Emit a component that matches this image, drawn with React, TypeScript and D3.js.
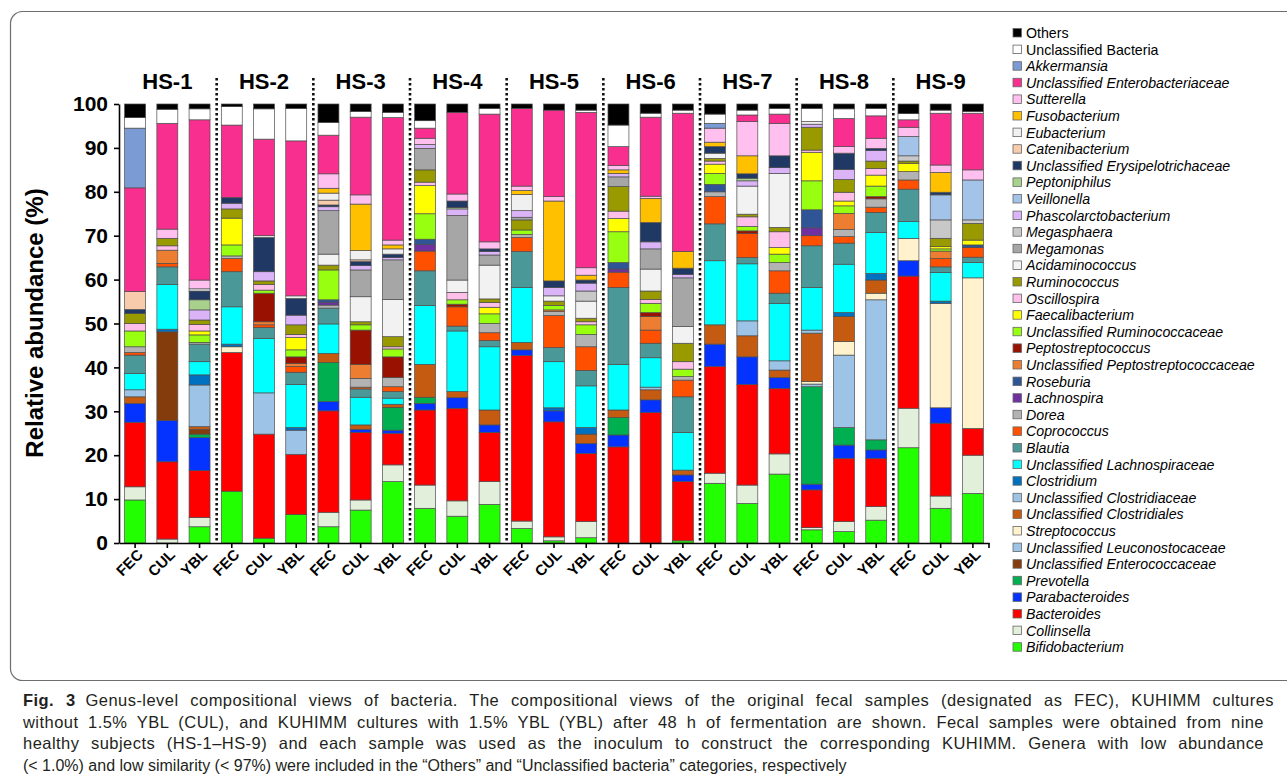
import React, { useEffect, useRef } from 'react';
import * as d3 from 'd3';

const subjects = ['HS-1', 'HS-2', 'HS-3', 'HS-4', 'HS-5', 'HS-6', 'HS-7', 'HS-8', 'HS-9'];
const conditions = ['FEC', 'CUL', 'YBL'];
const yTicks = [0, 10, 20, 30, 40, 50, 60, 70, 80, 90, 100];

// genera, bottom of the stack first
const genusKeys = ['Bifi', 'Coll', 'Bact', 'Para', 'Prev', 'UEnc', 'ULeu', 'Strp', 'UCls', 'UCld', 'Clos', 'ULac', 'Blau', 'Copr', 'Dore', 'Lach', 'Rose', 'UPep', 'Pept', 'URum', 'Faec', 'Osci', 'Rumi', 'Acid', 'Mgmo', 'Mgsp', 'Phas', 'Veil', 'Pepn', 'UEry', 'Cate', 'Euba', 'Fuso', 'Sutt', 'UEnt', 'Akke', 'UBac', 'Othe'];
const genusNames = ['Bifidobacterium', 'Collinsella', 'Bacteroides', 'Parabacteroides', 'Prevotella', 'Unclassified Enterococcaceae', 'Unclassified Leuconostocaceae', 'Streptococcus', 'Unclassified Clostridiales', 'Unclassified Clostridiaceae', 'Clostridium', 'Unclassified Lachnospiraceae', 'Blautia', 'Coprococcus', 'Dorea', 'Lachnospira', 'Roseburia', 'Unclassified Peptostreptococcaceae', 'Peptostreptococcus', 'Unclassified Ruminococcaceae', 'Faecalibacterium', 'Oscillospira', 'Ruminococcus', 'Acidaminococcus', 'Megamonas', 'Megasphaera', 'Phascolarctobacterium', 'Veillonella', 'Peptoniphilus', 'Unclassified Erysipelotrichaceae', 'Catenibacterium', 'Eubacterium', 'Fusobacterium', 'Sutterella', 'Unclassified Enterobacteriaceae', 'Akkermansia', 'Unclassified Bacteria', 'Others'];
const genusColors = ['#22ff00', '#e2efda', '#ff0000', '#0433ff', '#00b050', '#843c0c', '#9dc3e6', '#fff2cc', '#c55a11', '#9dc3e6', '#0070c0', '#00ffff', '#4a9898', '#ff5000', '#b3b3b3', '#7030a0', '#2f5597', '#ed7d31', '#991100', '#99ff11', '#ffff00', '#ffbfe8', '#999900', '#f2f2f2', '#a6a6a6', '#c8c8c8', '#dbb4f8', '#a3c4e8', '#a9d18e', '#1f3864', '#f8cbad', '#f0f0f0', '#ffc000', '#ffbfef', '#f82f8f', '#7b9bd5', '#ffffff', '#000000'];
const plainNames = ['Others', 'Unclassified Bacteria'];

// relative abundance (%) per sample
const HS1_FEC = { Bifi: 9.8, Coll: 3.0, Bact: 14.7, Para: 4.3, UCls: 1.5, UCld: 1.6, ULac: 3.7, Blau: 4.2, Copr: 0.6, Dore: 1.3, URum: 3.6, Osci: 1.7, Rumi: 2.3, UEry: 0.9, Cate: 4.1, UEnt: 23.6, Akke: 13.6, UBac: 2.4, Othe: 3.1 };
const HS1_CUL = { Coll: 0.9, Bact: 17.6, Para: 9.4, UEnc: 20.2, Clos: 0.6, ULac: 10.2, Blau: 4.0, Copr: 0.8, UPep: 3.0, Osci: 1.0, Rumi: 1.7, Sutt: 2.1, UEnt: 24.1, UBac: 3.2, Othe: 1.2 };
const HS1_YBL = { Bifi: 3.7, Coll: 2.1, Bact: 10.7, Para: 7.5, Prev: 0.8, UEnc: 1.1, UCls: 0.6, UCld: 9.5, Clos: 2.3, ULac: 3.0, Blau: 4.0, Dore: 0.4, URum: 1.7, Faec: 0.9, Osci: 1.5, Rumi: 1.0, Phas: 2.3, Pepn: 2.3, UEry: 2.0, Euba: 0.5, Sutt: 2.0, UEnt: 36.5, UBac: 2.5, Othe: 1.1 };
const HS2_FEC = { Bifi: 11.8, Bact: 31.6, Strp: 1.3, Clos: 0.6, ULac: 8.5, Blau: 8.0, Copr: 3.0, Dore: 0.6, URum: 2.5, Faec: 6.1, Rumi: 2.1, Phas: 1.3, UEry: 1.3, UEnt: 16.5, UBac: 4.2, Othe: 0.6 };
const HS2_CUL = { Bifi: 1.1, Bact: 23.7, UCld: 9.4, ULac: 12.4, Blau: 2.5, Copr: 0.6, UPep: 0.7, Pept: 6.5, URum: 0.7, Osci: 1.3, Rumi: 0.8, Phas: 2.1, UEry: 7.8, Euba: 0.4, UEnt: 22.0, UBac: 6.9, Othe: 1.1 };
const HS2_YBL = { Bifi: 6.5, Bact: 13.7, UCld: 5.5, Clos: 0.6, ULac: 9.8, Blau: 2.8, Copr: 1.3, UPep: 0.7, Pept: 1.5, URum: 1.6, Faec: 2.8, Osci: 0.7, Rumi: 2.2, Phas: 2.2, UEry: 3.8, Euba: 0.6, UEnt: 35.3, UBac: 7.4, Othe: 1.0 };
const HS3_FEC = { Bifi: 3.7, Coll: 3.3, Bact: 23.1, Para: 2.1, Prev: 8.9, UCls: 2.1, ULac: 6.7, Blau: 3.6, Dore: 0.7, Lach: 0.6, Rose: 0.6, URum: 6.8, Rumi: 1.1, Acid: 2.5, Mgmo: 9.9, Phas: 0.9, UEry: 0.4, Cate: 1.1, Euba: 1.6, Fuso: 1.1, Sutt: 3.3, UEnt: 8.8, UBac: 2.9, Othe: 4.2 };
const HS3_CUL = { Bifi: 7.5, Coll: 2.3, Bact: 15.4, Para: 0.7, UCls: 1.0, ULac: 6.3, Blau: 1.9, Copr: 0.4, Dore: 2.0, UPep: 3.2, Pept: 7.8, URum: 1.2, Rumi: 0.7, Acid: 5.7, Mgmo: 6.1, Phas: 1.0, UEry: 0.9, Cate: 0.4, Euba: 2.1, Fuso: 10.6, Sutt: 2.1, UEnt: 17.7, UBac: 1.3, Othe: 1.7 };
const HS3_YBL = { Bifi: 14.0, Coll: 3.8, Bact: 7.2, Para: 0.7, Prev: 5.2, UCls: 0.7, ULac: 1.4, Blau: 1.5, Copr: 1.1, Dore: 2.1, Pept: 4.7, URum: 1.8, Osci: 0.5, Rumi: 2.3, Acid: 8.5, Mgmo: 9.0, Phas: 0.5, UEry: 0.8, Euba: 1.2, Fuso: 0.9, Sutt: 1.1, UEnt: 27.9, UBac: 1.2, Othe: 1.9 };
const HS4_FEC = { Bifi: 7.9, Coll: 5.3, Bact: 17.1, Para: 1.5, Prev: 1.4, UCls: 7.5, ULac: 13.4, Blau: 7.9, Copr: 4.5, Lach: 1.5, Rose: 1.2, URum: 5.8, Faec: 6.4, Osci: 0.8, Rumi: 2.8, Mgmo: 4.9, Phas: 0.9, Sutt: 1.4, UEnt: 2.3, UBac: 1.7, Othe: 3.8 };
const HS4_CUL = { Bifi: 6.1, Coll: 3.5, Bact: 21.1, Para: 2.4, UCls: 1.4, ULac: 13.8, Blau: 1.1, Copr: 4.4, Pept: 0.6, URum: 1.0, Osci: 1.7, Acid: 2.8, Mgmo: 14.7, Phas: 1.5, Pepn: 0.3, UEry: 1.5, Sutt: 1.6, UEnt: 18.6, Othe: 1.9 };
const HS4_YBL = { Bifi: 8.8, Coll: 5.2, Bact: 11.2, Para: 1.7, UCls: 3.4, ULac: 14.4, Blau: 1.4, Copr: 1.8, Dore: 2.1, URum: 2.2, Faec: 1.5, Osci: 1.1, Rumi: 0.8, Acid: 7.7, Mgmo: 2.3, Phas: 0.8, UEry: 0.6, Sutt: 1.6, UEnt: 29.1, UBac: 1.3, Othe: 1.0 };
const HS5_FEC = { Bifi: 3.3, Coll: 1.7, Bact: 37.7, Para: 1.3, UCls: 1.7, ULac: 12.5, Blau: 8.2, Copr: 3.2, Dore: 0.7, URum: 1.0, Rumi: 2.3, Mgmo: 0.6, Phas: 1.5, Euba: 3.7, Fuso: 0.9, Sutt: 1.0, UEnt: 17.7, Othe: 1.0 };
const HS5_CUL = { Bifi: 0.5, Coll: 0.9, Bact: 26.2, Para: 2.5, Clos: 0.7, ULac: 10.5, Blau: 3.2, Copr: 7.3, Dore: 0.9, UPep: 0.4, URum: 1.0, Rumi: 1.0, Acid: 1.2, Phas: 1.9, UEry: 1.5, Fuso: 18.2, Sutt: 1.0, UEnt: 19.7, Othe: 1.4 };
const HS5_YBL = { Bifi: 1.2, Coll: 3.7, Bact: 15.5, Para: 2.3, UCls: 2.1, Clos: 1.5, ULac: 9.5, Blau: 3.5, Copr: 5.4, Dore: 2.8, URum: 2.2, Osci: 0.7, Rumi: 0.8, Acid: 3.9, Mgsp: 2.3, Phas: 1.8, UEry: 0.7, Fuso: 1.1, Sutt: 1.7, UEnt: 35.4, UBac: 0.5, Othe: 1.4 };
const HS6_FEC = { Bact: 21.9, Para: 2.7, Prev: 4.0, UCls: 1.7, ULac: 10.4, Blau: 17.5, Copr: 3.5, Lach: 0.7, Rose: 1.5, URum: 7.0, Faec: 3.0, Osci: 1.7, Rumi: 5.6, Mgmo: 2.2, Phas: 0.8, Fuso: 0.8, Sutt: 1.0, UEnt: 4.3, UBac: 4.9, Othe: 4.8 };
const HS6_CUL = { Bact: 29.7, Para: 2.9, UCls: 2.3, UCld: 0.6, ULac: 6.7, Blau: 3.3, Copr: 3.0, UPep: 3.1, Pept: 0.9, URum: 2.1, Osci: 0.9, Rumi: 1.9, Acid: 5.0, Mgmo: 4.6, Phas: 1.6, UEry: 4.4, Fuso: 5.5, Sutt: 0.5, UEnt: 18.0, UBac: 0.9, Othe: 2.1 };
const HS6_YBL = { Bifi: 0.5, Bact: 13.5, Para: 1.5, UCls: 1.1, ULac: 8.6, Blau: 8.1, Copr: 3.8, Dore: 0.8, URum: 1.7, Osci: 1.7, Rumi: 4.2, Acid: 3.8, Mgmo: 11.1, Phas: 0.8, UEry: 1.4, Fuso: 3.8, UEnt: 31.5, UBac: 0.7, Othe: 1.4 };
const HS7_FEC = { Bifi: 13.6, Coll: 2.3, Bact: 24.3, Para: 5.1, UCls: 4.4, ULac: 14.6, Blau: 8.4, Copr: 6.2, Dore: 1.1, Rose: 1.7, URum: 2.5, Faec: 2.1, Osci: 0.7, Rumi: 0.6, Acid: 1.2, UEry: 1.5, Fuso: 1.0, Sutt: 3.2, Akke: 1.1, UBac: 2.1, Othe: 2.3 };
const HS7_CUL = { Bifi: 9.0, Coll: 4.2, Bact: 22.9, Para: 6.3, UCls: 4.8, UCld: 3.4, ULac: 13.0, Blau: 1.4, Copr: 5.5, Pept: 0.6, URum: 1.0, Osci: 2.2, Rumi: 0.6, Acid: 6.4, Phas: 1.2, Pepn: 0.6, UEry: 1.0, Fuso: 4.1, Sutt: 7.8, UEnt: 1.5, UBac: 1.1, Othe: 1.4 };
const HS7_YBL = { Bifi: 15.7, Coll: 4.6, Bact: 14.9, Para: 2.5, UCls: 1.7, UCld: 2.1, ULac: 13.1, Blau: 2.3, Copr: 5.1, Dore: 1.9, URum: 1.9, Faec: 1.5, Osci: 3.6, Rumi: 1.0, Acid: 12.3, Phas: 1.3, UEry: 2.7, Sutt: 7.4, UEnt: 2.1, UBac: 1.3, Othe: 1.0 };
const HS8_FEC = { Bifi: 3.0, Coll: 0.5, Bact: 8.6, Para: 1.3, Prev: 22.2, ULeu: 0.6, Strp: 0.6, UCls: 11.0, UCld: 0.7, ULac: 9.7, Blau: 9.5, Copr: 2.3, Lach: 1.8, Rose: 4.1, URum: 6.6, Faec: 6.5, Osci: 0.5, Rumi: 5.2, Phas: 0.7, Euba: 0.6, UBac: 3.0, Othe: 1.0 };
const HS8_CUL = { Bifi: 2.6, Coll: 2.3, Bact: 14.4, Para: 3.0, Prev: 4.0, ULeu: 16.5, Strp: 3.1, UCls: 5.7, Clos: 0.9, ULac: 11.0, Blau: 4.8, Copr: 1.5, Dore: 1.6, UPep: 3.7, URum: 1.7, Faec: 1.1, Osci: 2.0, Rumi: 2.9, Phas: 2.3, UEry: 3.7, Sutt: 1.5, UEnt: 6.4, UBac: 2.2, Othe: 1.1 };
const HS8_YBL = { Bifi: 5.2, Coll: 3.1, Bact: 11.0, Para: 1.9, Prev: 2.3, ULeu: 31.9, Strp: 1.5, UCls: 3.0, Clos: 1.5, ULac: 9.3, Blau: 4.6, Copr: 1.2, Dore: 1.9, Pept: 0.5, URum: 2.4, Faec: 2.5, Osci: 1.5, Rumi: 1.7, Phas: 2.4, UEry: 0.5, Sutt: 2.3, UEnt: 5.1, UBac: 1.7, Othe: 1.0 };
const HS9_FEC = { Bifi: 21.7, Coll: 9.0, Bact: 30.1, Para: 3.5, Strp: 5.1, ULac: 3.8, Blau: 7.4, Copr: 2.1, Dore: 1.9, Faec: 1.9, Rumi: 0.5, Mgsp: 1.2, Veil: 4.4, Sutt: 2.1, UEnt: 1.7, UBac: 1.4, Othe: 2.2 };
const HS9_CUL = { Bifi: 7.9, Coll: 2.8, Bact: 16.6, Para: 3.5, Strp: 23.8, Clos: 0.5, ULac: 6.5, Blau: 1.3, Copr: 1.9, UPep: 1.7, URum: 0.5, Faec: 0.5, Rumi: 1.9, Mgsp: 4.2, Veil: 5.7, UEry: 0.6, Fuso: 4.5, Sutt: 1.7, UEnt: 11.8, UBac: 0.7, Othe: 1.4 };
const HS9_YBL = { Bifi: 11.3, Coll: 8.7, Bact: 6.1, Strp: 34.3, ULac: 3.5, Blau: 1.2, Copr: 2.2, Rose: 0.6, Faec: 1.1, Rumi: 3.8, Mgsp: 0.8, Veil: 9.1, Sutt: 2.3, UEnt: 12.9, UBac: 0.4, Othe: 1.7 };

const samples = [
  HS1_FEC, HS1_CUL, HS1_YBL, HS2_FEC, HS2_CUL, HS2_YBL, HS3_FEC, HS3_CUL, HS3_YBL,
  HS4_FEC, HS4_CUL, HS4_YBL, HS5_FEC, HS5_CUL, HS5_YBL, HS6_FEC, HS6_CUL, HS6_YBL,
  HS7_FEC, HS7_CUL, HS7_YBL, HS8_FEC, HS8_CUL, HS8_YBL, HS9_FEC, HS9_CUL, HS9_YBL,
];

const captionLines = [
  'Genus-level compositional views of bacteria. The compositional views of the original fecal samples (designated as FEC), KUHIMM cultures',
  'without 1.5% YBL (CUL), and KUHIMM cultures with 1.5% YBL (YBL) after 48 h of fermentation are shown. Fecal samples were obtained from nine',
  'healthy subjects (HS-1–HS-9) and each sample was used as the inoculum to construct the corresponding KUHIMM. Genera with low abundance',
  '(< 1.0%) and low similarity (< 97%) were included in the “Others” and “Unclassified bacteria” categories, respectively',
];

const FONT = 'Arial, "Liberation Sans", Helvetica, sans-serif';

const App = () => {
  const svgRef = useRef(null);
  const width = 1287;
  const height = 774;

  useEffect(() => {
    const svg = d3.select(svgRef.current);
    svg.selectAll('*').remove();

    // frame
    svg.append('rect')
      .attr('x', 10.5).attr('y', 11.5).attr('width', 1300).attr('height', 669)
      .attr('rx', 12).attr('fill', 'none').attr('stroke', '#6d6e71').attr('stroke-width', 1.2);

    const ids = samples.map((s, i) => i);
    const table = samples.map((s, i) => {
      const row = { id: i };
      genusKeys.forEach(k => { row[k] = s[k] ?? 0; });
      return row;
    });

    const x = d3.scaleBand().domain(ids).range([119, 989]).paddingInner(0.35).paddingOuter(0.175);
    const y = d3.scaleLinear().domain([0, 100]).range([543, 104]);
    const color = d3.scaleOrdinal().domain(genusKeys).range(genusColors);

    const series = d3.stack().keys(genusKeys)(table);

    const g = svg.append('g');
    g.selectAll('g.layer')
      .data(series)
      .enter()
      .append('g')
      .attr('class', 'layer')
      .attr('fill', d => color(d.key))
      .selectAll('rect')
      .data(d => d.filter(p => p[1] - p[0] > 0))
      .enter()
      .append('rect')
      .attr('x', d => x(d.data.id))
      .attr('width', x.bandwidth())
      .attr('y', d => y(d[1]))
      .attr('height', d => y(d[0]) - y(d[1]))
      .attr('stroke', '#4d4d4d')
      .attr('stroke-width', 0.7);

    // group separators
    for (let i = 1; i < subjects.length; i++) {
      const left = x(i * 3 - 1) + x.bandwidth();
      const right = x(i * 3);
      const sx = (left + right) / 2 + 1;
      svg.append('line')
        .attr('x1', sx).attr('x2', sx).attr('y1', 78).attr('y2', 543)
        .attr('stroke', '#111').attr('stroke-width', 2.6).attr('stroke-dasharray', '2.6,2.4');
    }

    // group labels
    subjects.forEach((s, i) => {
      svg.append('text')
        .attr('x', x(i * 3 + 1) + x.bandwidth() / 2)
        .attr('y', 89)
        .attr('text-anchor', 'middle')
        .style('font-family', FONT).style('font-weight', 'bold').style('font-size', '22px')
        .text(s);
    });

    // y axis
    const yAxis = svg.append('g').attr('transform', 'translate(119,0)')
      .call(d3.axisLeft(y).tickValues(yTicks).tickSize(5).tickSizeOuter(0).tickPadding(6));
    yAxis.select('.domain').attr('stroke', '#000').attr('stroke-width', 1.6);
    yAxis.selectAll('.tick line').attr('stroke', '#000').attr('stroke-width', 1.6);
    yAxis.selectAll('.tick text')
      .style('font-family', FONT).style('font-weight', 'bold').style('font-size', '21px').attr('fill', '#000');

    // x axis
    const xAxis = svg.append('g').attr('transform', 'translate(0,543)')
      .call(d3.axisBottom(x).tickSize(5).tickSizeOuter(0).tickFormat(i => conditions[i % 3]));
    xAxis.select('.domain').attr('stroke', '#000').attr('stroke-width', 1.6);
    xAxis.selectAll('.tick line').attr('stroke', '#000').attr('stroke-width', 1.6);
    xAxis.selectAll('.tick text')
      .style('font-family', FONT).style('font-weight', 'bold').style('font-size', '15px').attr('fill', '#000')
      .attr('text-anchor', 'end')
      .attr('transform', 'translate(5,9) rotate(-45)')
      .attr('dy', '0.35em').attr('y', 0).attr('x', 0);
    xAxis.append('line').attr('x1', 989).attr('x2', 989).attr('y1', 0).attr('y2', 5)
      .attr('stroke', '#000').attr('stroke-width', 1.6);

    // y title
    svg.append('text')
      .attr('transform', 'translate(43,323) rotate(-90)')
      .attr('text-anchor', 'middle')
      .style('font-family', FONT).style('font-weight', 'bold').style('font-size', '24px')
      .text('Relative abundance (%)');

    // legend, top of stack first
    const legendItems = genusKeys.map((k, i) => ({ key: k, name: genusNames[i] })).reverse();
    const lg = svg.append('g').attr('transform', 'translate(1013,33)');
    legendItems.forEach((it, i) => {
      const row = lg.append('g').attr('transform', `translate(0,${i * 16.6})`);
      row.append('rect')
        .attr('x', 0).attr('y', -4.5).attr('width', 8.5).attr('height', 8.5)
        .attr('fill', color(it.key)).attr('stroke', '#666').attr('stroke-width', 0.8);
      row.append('text')
        .attr('x', 13).attr('y', 5)
        .style('font-family', FONT).style('font-size', '14.2px')
        .style('font-style', plainNames.includes(it.name) ? 'normal' : 'italic')
        .text(it.name);
    });

    // caption, first three lines justified
    const cap = svg.append('g').style('font-family', FONT).attr('fill', '#231f20');
    const capY = [706, 727.5, 749, 770.5];
    captionLines.forEach((line, i) => {
      const t = cap.append('text').attr('x', 23).attr('y', capY[i])
        .style('font-size', i < 3 ? '16.5px' : '16px');
      if (i === 0) {
        t.append('tspan').style('font-weight', 'bold').text('Fig. 3');
        t.append('tspan').attr('dx', 10).text(line);
      } else {
        t.text(line);
      }
      if (i < 3) {
        t.style('letter-spacing', '0.45px');
        const natural = t.node().getComputedTextLength();
        const spaces = (line.match(/ /g) || []).length + (i === 0 ? 1 : 0);
        const extra = (1241 - natural) / spaces;
        if (extra > 0) t.style('word-spacing', `${extra}px`);
      }
    });
  }, []);

  return (
    <svg ref={svgRef} width={width} height={height}
      style={{ position: 'absolute', left: 0, top: 0, background: '#fff' }} />
  );
};

export default App;
